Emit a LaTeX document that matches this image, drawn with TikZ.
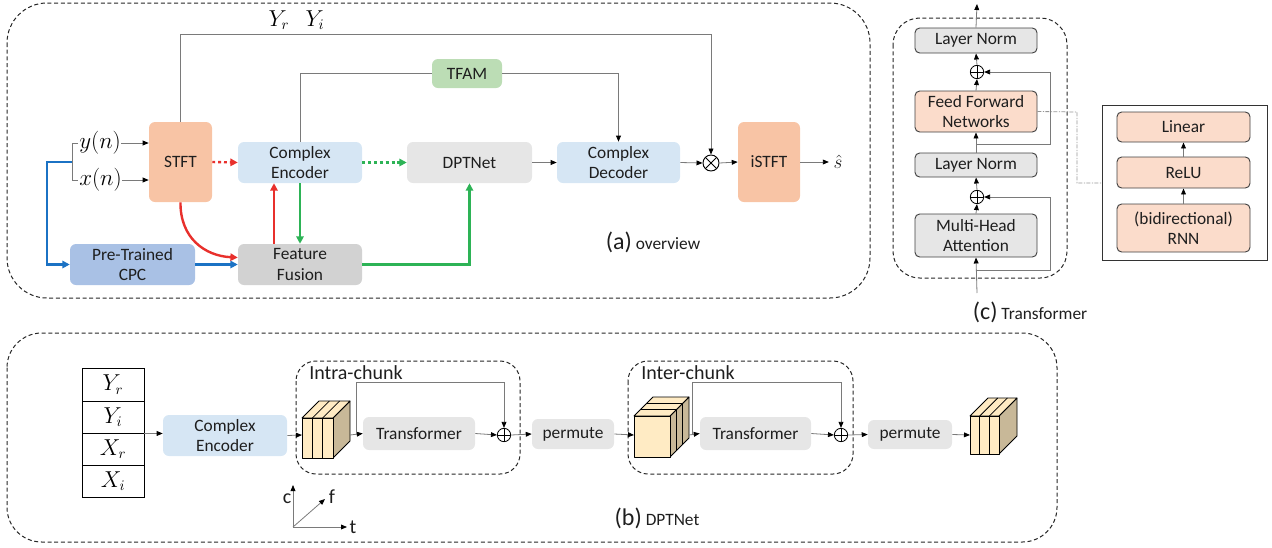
\documentclass[tikz,border=0pt]{standalone}
\usepackage{fontspec}
\setmainfont{Carlito}
\usetikzlibrary{arrows.meta,calc}

\definecolor{stftc}{HTML}{F8C4A5}
\definecolor{encc}{HTML}{D6E6F4}
\definecolor{dptc}{HTML}{E6E6E6}
\definecolor{tfamc}{HTML}{BCDDB5}
\definecolor{cpcc}{HTML}{A9C1E5}
\definecolor{ffc}{HTML}{D2D2D2}
\definecolor{ffnc}{HTML}{FBDCCB}
\definecolor{lnc}{HTML}{E6E6E6}
\definecolor{creamc}{HTML}{FFEBC4}
\definecolor{tanc}{HTML}{C8B898}
\definecolor{redc}{HTML}{E8302C}
\definecolor{greenc}{HTML}{2DB356}
\definecolor{bluec}{HTML}{1B72C4}
\definecolor{linec}{HTML}{7A7A7A}
\definecolor{txtc}{HTML}{1E1E1E}

\tikzset{
  blk/.style={rounded corners=4.5pt, inner sep=0pt, align=center, text=txtc},
  framed/.style={blk, draw=black!75, line width=0.7pt, rounded corners=3.5pt},
  cell/.style={draw=black, line width=0.7pt, inner sep=0pt},
  gline/.style={draw=linec, line width=0.6pt},
  arr/.style={gline, -{Triangle[length=4.5pt,width=3.6pt,color=black]}},
  thick red/.style={draw=redc, line width=1.8pt, -{Triangle[length=5.5pt,width=5.5pt]}},
  thick green/.style={draw=greenc, line width=1.8pt, -{Triangle[length=5.5pt,width=5.5pt]}},
  thick blue/.style={draw=bluec, line width=1.8pt, -{Triangle[length=5.5pt,width=5.5pt]}},
  dotted head/.style={dash pattern=on 2.2pt off 2.2pt},
  group/.style={draw=black!85, line width=0.75pt, dash pattern=on 3pt off 2pt},
  cubeedge/.style={draw=black, line width=0.6pt, line join=round},
  plus/.style={circle, draw=black, line width=0.6pt, inner sep=0pt, minimum size=#1,
    path picture={\draw[line width=0.6pt] (path picture bounding box.north) -- (path picture bounding box.south)
      (path picture bounding box.west) -- (path picture bounding box.east);}},
  times/.style={circle, draw=black, line width=0.7pt, inner sep=0pt, minimum size=#1,
    path picture={\draw[line width=0.7pt] (path picture bounding box.north west) -- (path picture bounding box.south east)
      (path picture bounding box.south west) -- (path picture bounding box.north east);}},
}

% a node spanning the corner points (#3,#4) and (#5,#6), given in pixel units
\newcommand{\bnode}[7]{%
  \node[#1, minimum width={(#5-#3)*0.75pt}, minimum height={(#6-#4)*0.75pt}]
    (#2) at ({(#3+#5)/2},{(#4+#6)/2}) {#7};}

\begin{document}
\begin{tikzpicture}[x=0.75pt, y=-0.75pt, font=\fontsize{13}{15.5}\selectfont]
\useasboundingbox (0,0) rectangle (1272,547);

% ---------------- (a) overview ----------------
\draw[group, rounded corners=30pt] (7,3) rectangle (870,298);

\bnode{blk, fill=stftc}{stft}{149}{122}{212}{202}{STFT}
\bnode{blk, fill=encc}{enc}{238}{142}{362}{183}{Complex\\Encoder}
\bnode{blk, fill=dptc}{dpt}{407}{142}{532}{183}{DPTNet}
\bnode{blk, fill=encc}{dec}{557}{142}{680}{183}{Complex\\Decoder}
\node[times=12pt] (ot) at (711,163) {};
\bnode{blk, fill=stftc}{istft}{738}{122}{800}{202}{iSTFT}
\node[text=txtc, font=\fontsize{15}{18}\selectfont] (shat) at (838,162) {$\hat{s}$};
\bnode{blk, fill=tfamc}{tfam}{432}{59}{502}{88}{TFAM}
\bnode{blk, fill=cpcc}{cpc}{70}{244}{195}{285}{Pre-Trained\\CPC}
\bnode{blk, fill=ffc}{ff}{238}{244}{362}{285}{Feature\\Fusion}

\node[font=\fontsize{16}{19}\selectfont, anchor=west, inner sep=0pt] (yn) at (79,143) {$y(n)$};
\node[font=\fontsize{16}{19}\selectfont, anchor=west, inner sep=0pt] (xn) at (79,180) {$x(n)$};
\node[font=\fontsize{16}{19}\selectfont] (yr) at (279,20) {$Y_r$};
\node[font=\fontsize{16}{19}\selectfont] (yi) at (315,20) {$Y_i$};

% input bracket and branches
\draw[gline] (78,143) -- (72,143) -- (72,180) -- (78,180);
\coordinate (brk) at (72,162);
\draw[arr] (yn.east) -- (stft.west |- yn.east);
\draw[arr] (xn.east) -- (stft.west |- xn.east);
\draw[thick blue] (brk) -- (47,162) |- (cpc.west);
\draw[thick blue] (cpc.east) -- (ff.west |- cpc.east);

% main path
\draw[thick red, dotted head] (stft.east) -- (enc.west);
\draw[thick green, dotted head] (enc.east) -- (dpt.west);
\draw[arr] (dpt.east) -- (dec.west);
\draw[arr] (dec.east) -- (ot.west);
\draw[arr] (ot.east) -- (istft.west);
\draw[arr] (istft.east) -- (shat.west);

% spectrum bypass and TFAM
\coordinate (topr) at (711,34);
\draw[arr] (stft.north) |- (topr) -- (ot.north);
\draw[gline] (enc.north) |- (tfam.west);
\draw[arr] (tfam.east) -| (dec.north);

% feature fusion links
\draw[thick red] (stft.south) .. controls (180,238) and (205,256) .. ($(ff.west)+(0,-7)$);
\draw[thick red] ($(ff.north)+(-26,0)$) -- ($(enc.south)+(-26,0)$);
\draw[thick green] (enc.south) -- (ff.north);
\draw[thick green] (ff.east) -| (dpt.south);

\node[text=txtc] (capa) at (653,242) {{\fontsize{18}{20}\selectfont (a)}\ overview};

% ---------------- (c) Transformer ----------------
\draw[group, rounded corners=20pt] (893,18) rectangle (1067,278);

\bnode{framed, fill=lnc}{ln2}{915}{28}{1037}{53}{Layer Norm}
\node[plus=10pt] (p2) at (977,72) {};
\bnode{framed, fill=ffnc}{ffn}{915}{91}{1037}{132}{Feed Forward\\Networks}
\bnode{framed, fill=lnc}{ln1}{915}{153}{1037}{177}{Layer Norm}
\node[plus=10pt] (p1) at (977,197) {};
\bnode{framed, fill=lnc}{mha}{915}{214}{1037}{257}{Multi-Head\\Attention}

\coordinate (tin) at (977,293);
\coordinate (tout) at (977,4);
\coordinate (r1) at (977,270);
\coordinate (r2) at (977,144);
\draw[arr] (tin) -- (mha.south);
\draw[arr] (mha.north) -- (p1.south);
\draw[arr] (p1.north) -- (ln1.south);
\draw[arr] (ln1.north) -- (ffn.south);
\draw[arr] (ffn.north) -- (p2.south);
\draw[arr] (p2.north) -- (ln2.south);
\draw[arr] (ln2.north) -- (tout);
\draw[arr] (r1) -- (1050,270) |- (p1.east);
\draw[arr] (r2) -- (1050,144) |- (p2.east);

\draw[draw=black!80, line width=0.7pt] (1102,105) rectangle (1267,260);
\bnode{framed, fill=ffnc}{lin}{1117}{112}{1250}{142}{Linear}
\bnode{framed, fill=ffnc}{relu}{1117}{157}{1250}{188}{ReLU}
\bnode{framed, fill=ffnc}{rnn}{1117}{204}{1250}{252}{(bidirectional)\\RNN}
\draw[arr] (rnn.north) -- (relu.south);
\draw[arr] (relu.north) -- (lin.south);
\draw[draw=linec!80, line width=0.6pt, dash pattern=on 3pt off 1pt on 1pt off 1pt]
  (ffn.east) -- (1077,112) -- (1077,183) -- (1102,183);

\node[text=txtc] (capc) at (1030,312) {{\fontsize{18}{20}\selectfont (c)}\ Transformer};

% ---------------- (b) DPTNet ----------------
\draw[group, rounded corners=26pt] (7,333) rectangle (1057,542);

\bnode{cell, font=\fontsize{16}{18}\selectfont}{syr}{82}{368}{144}{401}{$Y_r$}
\bnode{cell, font=\fontsize{16}{18}\selectfont}{syi}{82}{401}{144}{433}{$Y_i$}
\bnode{cell, font=\fontsize{16}{18}\selectfont}{sxr}{82}{433}{144}{465}{$X_r$}
\bnode{cell, font=\fontsize{16}{18}\selectfont}{sxi}{82}{465}{144}{497}{$X_i$}
\bnode{blk, fill=encc}{benc}{163}{415}{287}{456}{Complex\\Encoder}
\draw[arr] (syi.south east) -- (benc.west |- syi.south east);

% intra-chunk block
\draw[group, rounded corners=15pt] (296,361) rectangle (520,474);
\node[anchor=west, inner sep=0pt, font=\fontsize{15}{18}\selectfont, text=txtc] (intra) at (309,373) {Intra-chunk};
\begin{scope}[shift={(302,418)}]
  \filldraw[cubeedge, fill=tanc] (31,0) -- (48,-17) -- (48,23) -- (31,40) -- cycle;
  \filldraw[cubeedge, fill=creamc] (0,0) -- (17,-17) -- (48,-17) -- (31,0) -- cycle;
  \foreach \s in {10.33,20.67} \draw[cubeedge] (\s,0) -- ++(17,-17);
  \foreach \s in {0,10.33,20.67} \filldraw[cubeedge, fill=creamc] (\s,0) rectangle ++(10.33,40);
\end{scope}
\coordinate (c1in) at (302,435);
\coordinate (c1out) at (350,435);
\coordinate (s1) at (356,435);
\bnode{blk, fill=dptc}{tr1}{363}{417}{475}{450}{Transformer}
\node[plus=10pt] (pl1) at (504,435) {};
\draw[arr] (benc.east) -- (c1in);
\draw[arr] (c1out) -- (tr1.west);
\draw[arr] (tr1.east) -- (pl1.west);
\draw[arr] (s1) |- (504,382) -- (pl1.north);

\bnode{blk, fill=dptc}{perm1}{532}{419}{614}{449}{permute}
\draw[arr] (pl1.east) -- (perm1.west);

% inter-chunk block
\draw[group, rounded corners=15pt] (628,361) rectangle (853,474);
\node[anchor=west, inner sep=0pt, font=\fontsize{15}{18}\selectfont, text=txtc] (inter) at (641,373) {Inter-chunk};
\begin{scope}[shift={(634,416)}]
  \filldraw[cubeedge, fill=tanc] (36,0) -- (55,-19) -- (55,22) -- (36,41) -- cycle;
  \filldraw[cubeedge, fill=creamc] (0,0) -- (19,-19) -- (55,-19) -- (36,0) -- cycle;
  \foreach \t in {6.33,12.67} {
    \draw[cubeedge] (\t,-\t) -- (36+\t,-\t) -- (36+\t,41-\t);
  }
  \filldraw[cubeedge, fill=creamc] (0,0) rectangle (36,41);
\end{scope}
\coordinate (c2in) at (634,435);
\coordinate (c2out) at (689,435);
\coordinate (s2) at (692,435);
\bnode{blk, fill=dptc}{tr2}{700}{417}{811}{450}{Transformer}
\node[plus=10pt] (pl2) at (841,435) {};
\draw[arr] (perm1.east) -- (c2in);
\draw[arr] (c2out) -- (tr2.west);
\draw[arr] (tr2.east) -- (pl2.west);
\draw[arr] (s2) |- (841,382) -- (pl2.north);

\bnode{blk, fill=dptc}{perm2}{868}{420}{952}{449}{permute}
\draw[arr] (pl2.east) -- (perm2.west);

\begin{scope}[shift={(970,416)}]
  \filldraw[cubeedge, fill=tanc] (29,0) -- (47,-18) -- (47,20) -- (29,38) -- cycle;
  \filldraw[cubeedge, fill=creamc] (0,0) -- (18,-18) -- (47,-18) -- (29,0) -- cycle;
  \foreach \s in {9.67,19.33} \draw[cubeedge] (\s,0) -- ++(18,-18);
  \foreach \s in {0,9.67,19.33} \filldraw[cubeedge, fill=creamc] (\s,0) rectangle ++(9.67,38);
\end{scope}
\coordinate (c3in) at (970,435);
\draw[arr] (perm2.east) -- (c3in);

% axes
\coordinate (ax0) at (293,527);
\coordinate (axc) at (293,485);
\coordinate (axt) at (347,527);
\coordinate (axf) at (325,499);
\draw[arr] (ax0) -- (axc);
\draw[arr] (ax0) -- (axt);
\draw[arr] (ax0) -- (axf);
\node[text=txtc, font=\fontsize{15}{18}\selectfont] (lc) at (287,499) {c};
\node[text=txtc, font=\fontsize{15}{18}\selectfont] (lf) at (332,497) {f};
\node[text=txtc, font=\fontsize{15}{18}\selectfont] (lt) at (353,527) {t};

\node[text=txtc] (capb) at (657,518) {{\fontsize{18}{20}\selectfont (b)}\ DPTNet};
\end{tikzpicture}
\end{document}
